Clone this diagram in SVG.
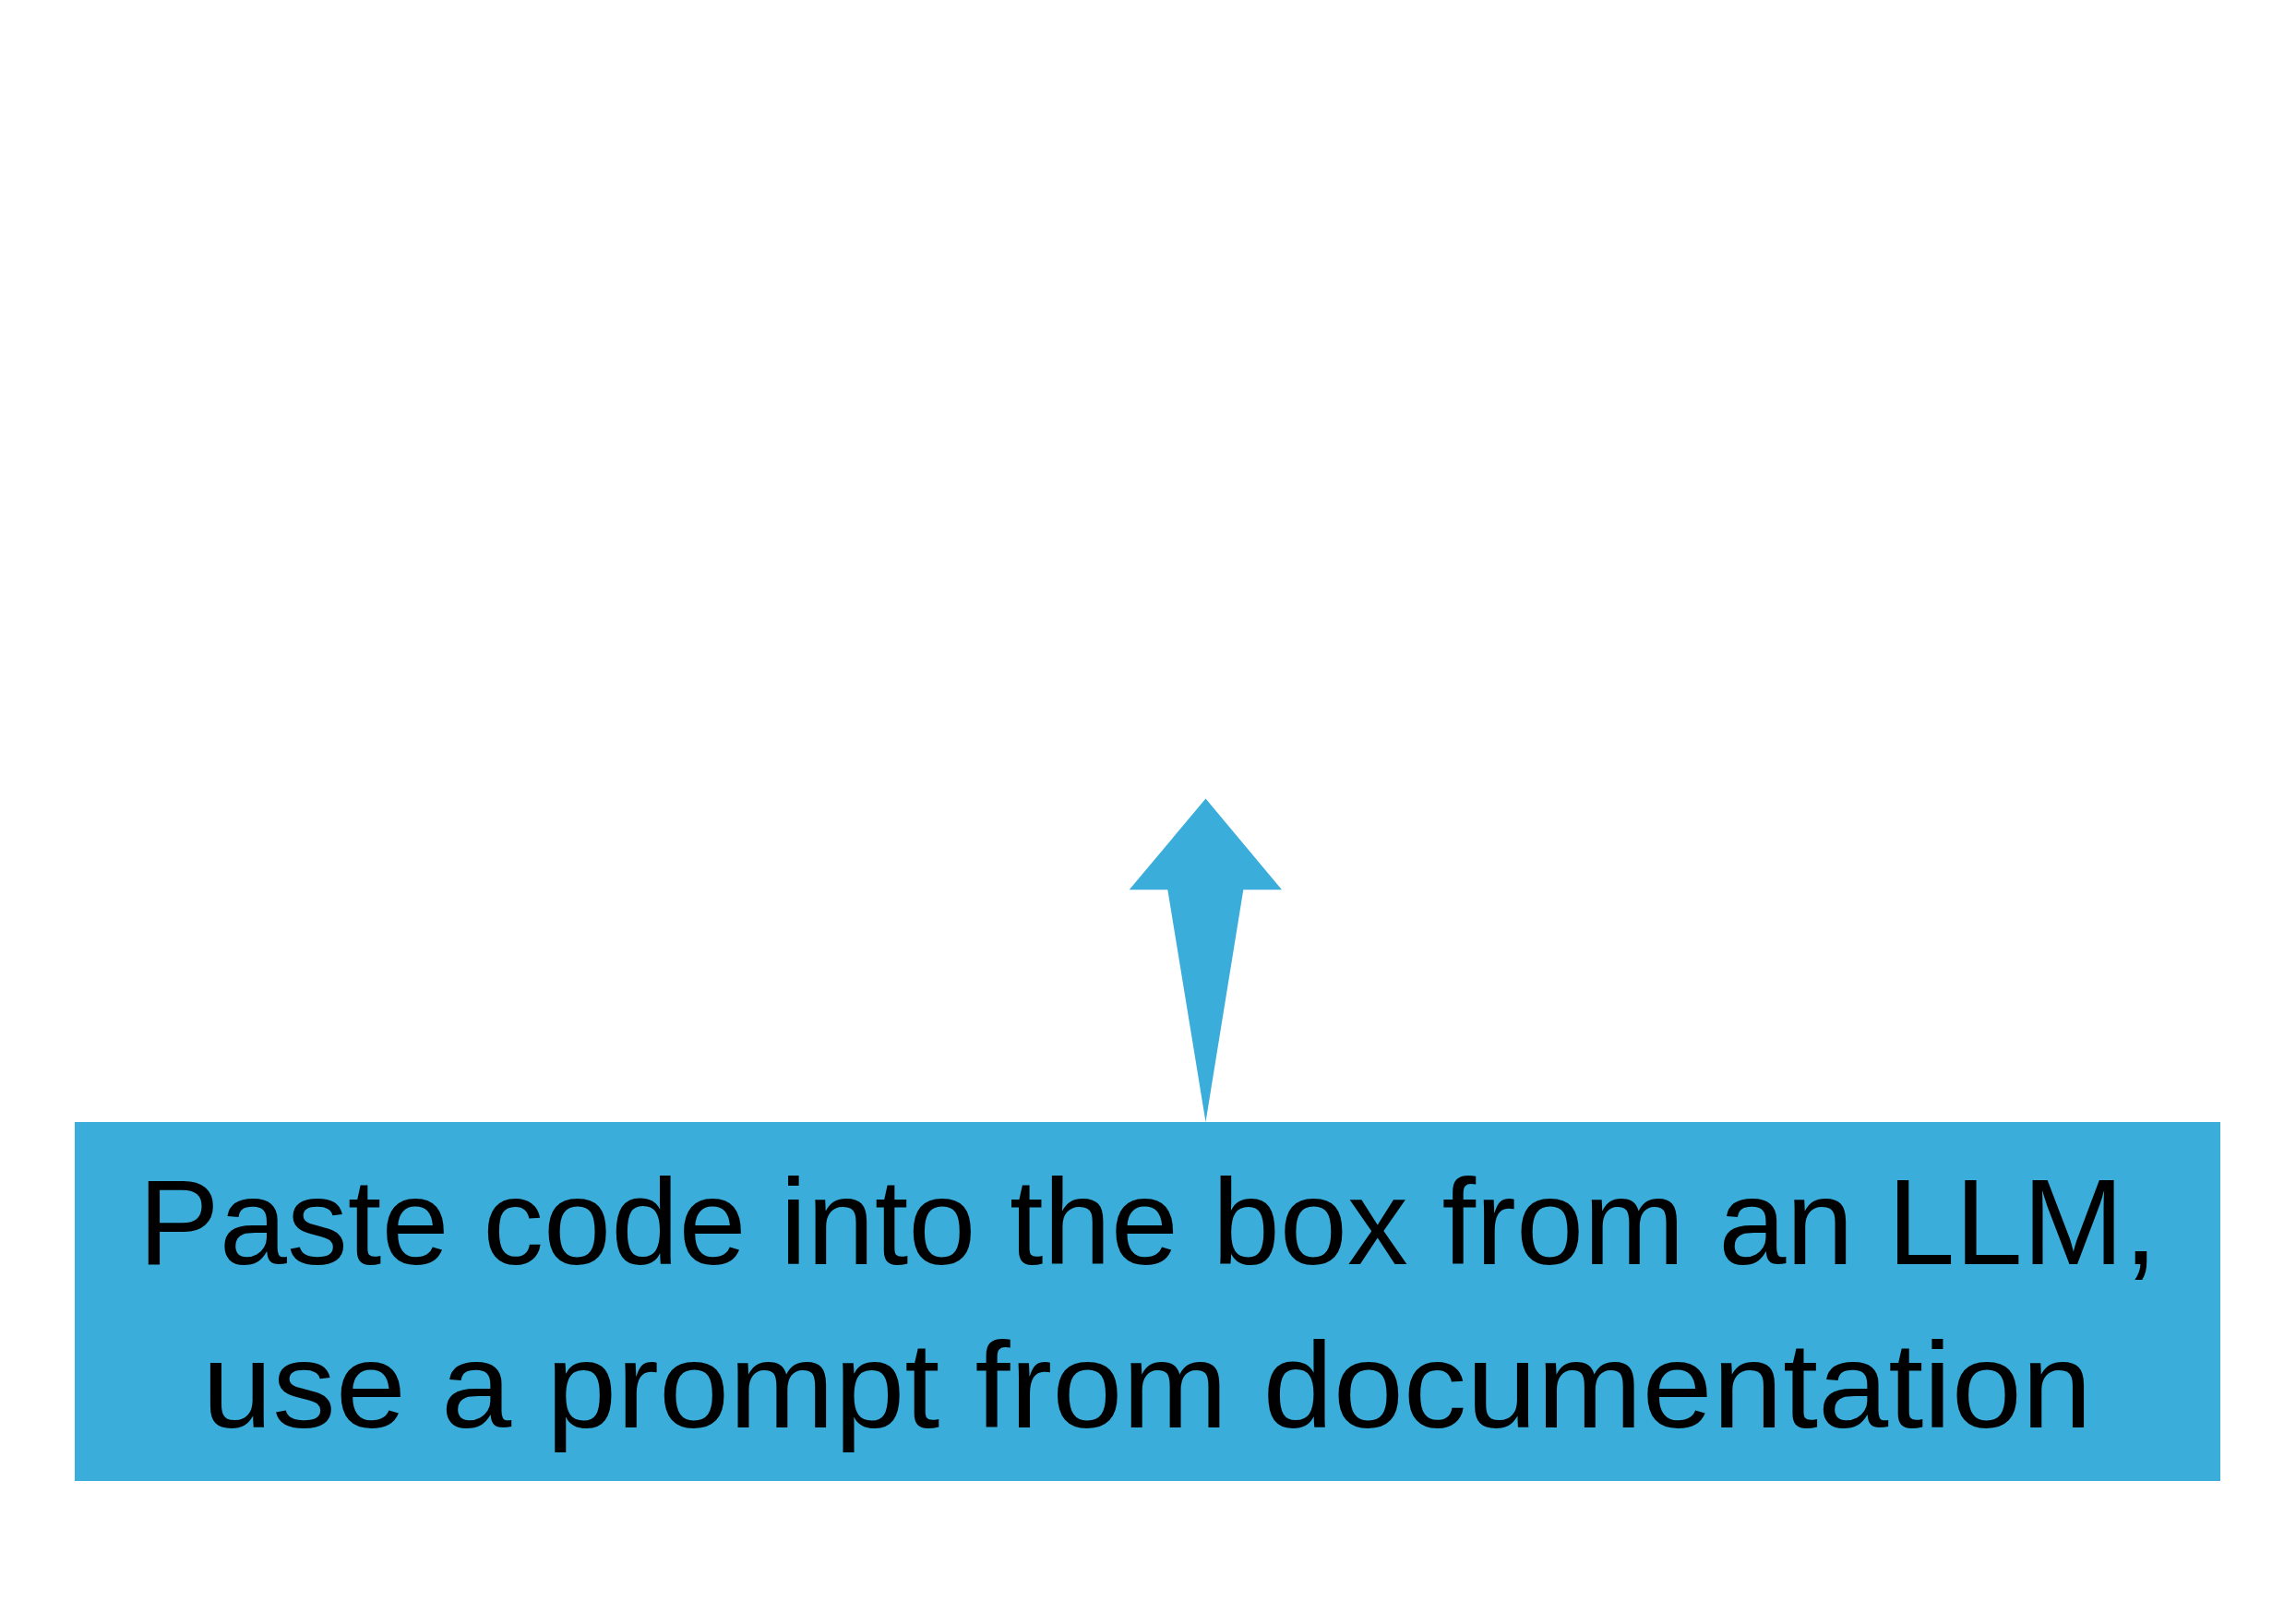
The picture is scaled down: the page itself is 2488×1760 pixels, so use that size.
<svg xmlns="http://www.w3.org/2000/svg" width="2488" height="1760" viewBox="0 0 2488 1760">
<style>
.box{fill:#3AADDA;}
.lbl{font-family:"Liberation Sans",Arial,sans-serif;font-size:132px;fill:#000;text-anchor:middle;}
.arrow{fill:#3AADDA;}
</style>
<rect width="2488" height="1760" fill="#fff"/>
<g id="connectors">
<polygon class="arrow" points="1306.5,865.5 1389,964.3 1347.3,964.3 1306.5,1216 1265.3,964.3 1223.7,964.3"/>
</g>
<g id="node1">
<rect class="box" x="81" y="1216" width="2325" height="389"/>
<text class="lbl" x="1244" y="1370" textLength="2188" lengthAdjust="spacingAndGlyphs">Paste code into the box from an LLM,</text>
<text class="lbl" x="1243" y="1547" textLength="2048" lengthAdjust="spacingAndGlyphs">use a prompt from documentation</text>
</g>
</svg>
